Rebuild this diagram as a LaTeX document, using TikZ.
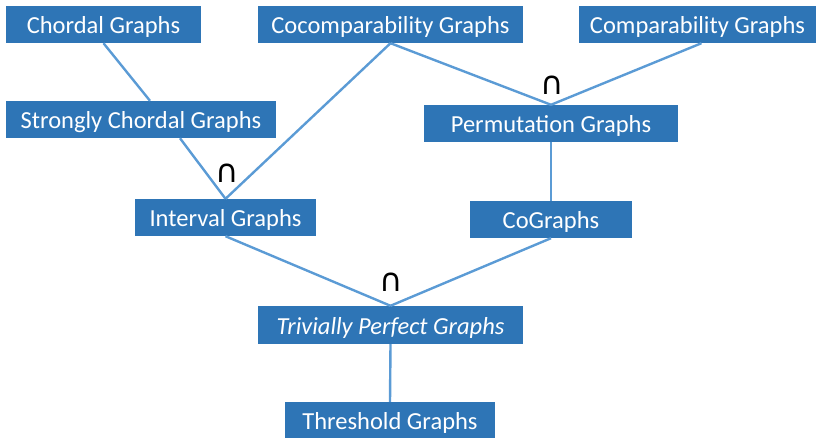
\documentclass[tikz,border=0pt]{standalone}
\usepackage{fontspec}
\setmainfont{Carlito}
\newfontfamily\symfont{DejaVu Sans}
\usetikzlibrary{calc}
\definecolor{boxblue}{HTML}{2E75B6}
\definecolor{lineblue}{HTML}{5B9BD5}
\tikzset{
  gbox/.style={fill=boxblue, text=white, inner sep=0pt, minimum height=37pt,
    text height=27.5pt, text depth=9.5pt,
    font=\fontsize{24.5}{28}\selectfont, anchor=center},
  link/.style={draw=lineblue, line width=2.4pt},
  isect/.style={text=black, inner sep=0pt, font=\symfont\fontsize{32}{36}\selectfont}
}
\begin{document}
\begin{tikzpicture}[x=1pt,y=-1pt]
\useasboundingbox (0,0) rectangle (821,438);
\node[gbox, minimum width=195pt] (chordal) at (103.5,24.5) {Chordal Graphs};
\node[gbox, minimum width=265pt] (cocomp) at (390.5,24.5) {Cocomparability Graphs};
\node[gbox, minimum width=237pt] (comp) at (697.5,24.5) {Comparability Graphs};
\node[gbox, minimum width=270pt] (sc) at (141,119.5) {Strongly Chordal Graphs};
\node[gbox, minimum width=254pt] (perm) at (551,123.5) {Permutation Graphs};
\node[gbox, minimum width=181pt] (interval) at (225.5,217.5) {Interval Graphs};
\node[gbox, minimum width=162pt] (cog) at (551,219.5) {CoGraphs};
\node[gbox, minimum width=265pt, minimum height=38pt, text height=28.5pt] (tp) at (390.5,325) {\itshape Trivially Perfect Graphs};
\node[gbox, minimum width=210pt, minimum height=36pt, text height=27pt, text depth=9pt] (thr) at (390,420) {Threshold Graphs};

\node[isect] (i1) at (227,173) {∩};
\node[isect] (i2) at (552,85) {∩};
\node[isect] (i3) at (391,282) {∩};

\draw[link] (chordal.south) -- ($(sc.north)+(9,0)$);
\draw[link] ($(sc.south)+(39,0)$) -- (interval.north);
\draw[link] (cocomp.south) -- (interval.north);
\draw[link] (cocomp.south) -- (perm.north);
\draw[link] ($(comp.south)+(4,0)$) -- (perm.north);
\draw[link] (perm.south) -- (cog.north);
\draw[link] (interval.south) -- (tp.north);
\draw[link] (cog.south) -- (tp.north);
\draw[link] (tp.south) -- (thr.north);
\end{tikzpicture}
\end{document}
